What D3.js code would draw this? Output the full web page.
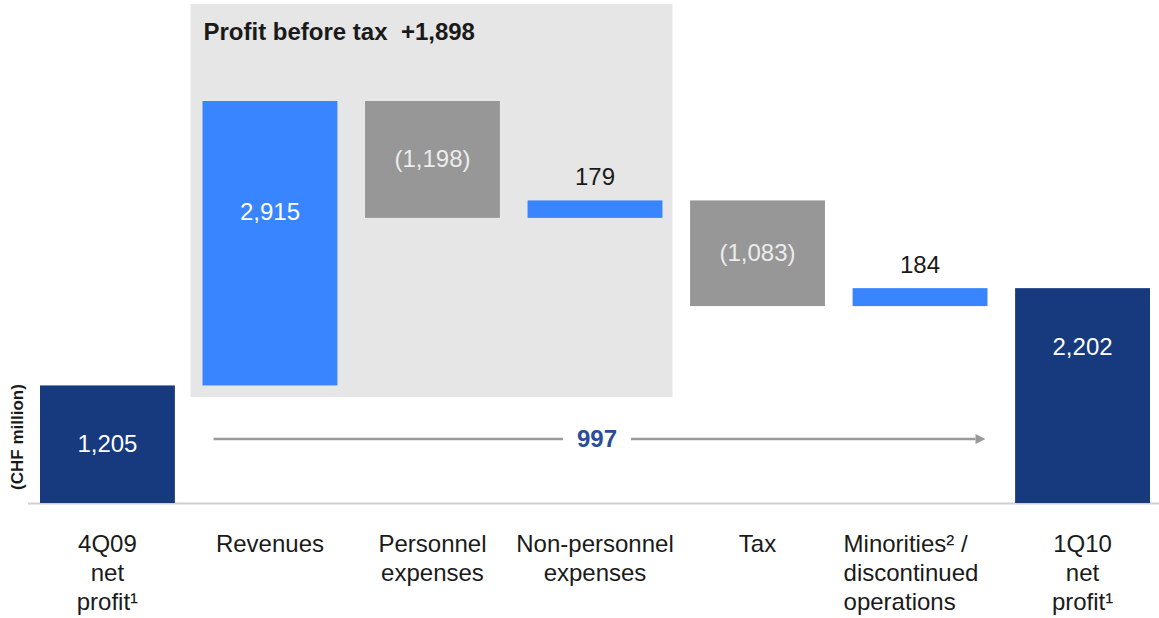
<!DOCTYPE html>
<html>
<head>
<meta charset="utf-8">
<script src="https://cdn.jsdelivr.net/npm/d3@7"></script>
<style>
  html, body { margin: 0; padding: 0; background: #fff; }
  svg { display: block; font-family: "Liberation Sans", Arial, sans-serif; }
</style>
</head>
<body>
<svg id="chart" width="1159" height="618"></svg>
<script>
// ---- data ----
const categories = ["4Q09 net profit", "Revenues", "Personnel expenses", "Non-personnel expenses", "Tax", "Minorities / discontinued operations", "1Q10 net profit"];
const categoryLines = [
  ["4Q09", "net", "profit¹"],
  ["Revenues"],
  ["Personnel", "expenses"],
  ["Non-personnel", "expenses"],
  ["Tax"],
  ["Minorities² /", "discontinued", "operations"],
  ["1Q10", "net", "profit¹"]
];
const values = [1205, 2915, -1198, 179, -1083, 184, 2202];
const kinds = ["total", "delta", "delta", "delta", "delta", "delta", "total"];
const panelTitle = "Profit before tax  +1,898";
const bridgeValue = 997;
const unitLabel = "(CHF million)";

// ---- build waterfall ----
let running = 0;
const bars = values.map((v, i) => {
  let y0, y1;
  if (kinds[i] === "total") { y0 = 0; y1 = v; running = v; }
  else { y0 = running; y1 = running + v; running = y1; }
  return { cat: categories[i], lines: categoryLines[i], v, kind: kinds[i], lo: Math.min(y0, y1), hi: Math.max(y0, y1), i };
});

const svg = d3.select("#chart");
const x = d3.scaleBand().domain(categories).range([40, 1150]).paddingInner(0.17).paddingOuter(0);
const y = d3.scaleLinear().domain([0, d3.max(bars, d => d.hi)]).range([503, 101]);

const colors = { total: "#173a7f", pos: "#3885ff", neg: "#979797" };
const fmt = d3.format(",");

// gray panel behind the profit-before-tax bars
const pStart = x(categories[1]) - 12, pEnd = x(categories[3]) + x.bandwidth() + 10;
svg.append("rect").attr("x", pStart).attr("y", 4).attr("width", pEnd - pStart).attr("height", 393).attr("fill", "#e6e6e6");
svg.append("text").attr("x", pStart + 13).attr("y", 40)
  .attr("font-size", 24).attr("font-weight", "bold").attr("fill", "#1a1a1a")
  .style("white-space", "pre").text(panelTitle);

// baseline
svg.append("line").attr("x1", 28).attr("x2", 1159).attr("y1", y(0) + 0.5).attr("y2", y(0) + 0.5)
  .attr("stroke", "#cfcfcf").attr("stroke-width", 2);

// bars
svg.selectAll("rect.bar").data(bars).join("rect").attr("class", "bar")
  .attr("x", d => x(d.cat)).attr("width", x.bandwidth())
  .attr("y", d => y(d.hi)).attr("height", d => y(d.lo) - y(d.hi))
  .attr("fill", d => d.kind === "total" ? colors.total : (d.v >= 0 ? colors.pos : colors.neg));

// value labels
const labelText = d => d.v < 0 ? "(" + fmt(-d.v) + ")" : fmt(d.v);
svg.selectAll("text.val").data(bars).join("text").attr("class", "val")
  .attr("x", d => x(d.cat) + x.bandwidth() / 2)
  .attr("y", d => {
    const h = y(d.lo) - y(d.hi);
    if (h < 30) return y(d.hi) - 15;               // small bars: label above
    if (d.i === 1) return y(d.hi) + 119;           // tall revenue bar
    if (d.i === 6) return y(d.hi) + 67;            // final total
    return (y(d.hi) + y(d.lo)) / 2 + 8;
  })
  .attr("text-anchor", "middle").attr("font-size", 24)
  .attr("fill", d => {
    const h = y(d.lo) - y(d.hi);
    if (h < 30) return "#1a1a1a";
    return d.v < 0 ? "#ececec" : "#ffffff";
  })
  .text(labelText);

// bridge arrow
const ay = 439;
const ax0 = x(categories[1]) + 11, ax1 = x(categories[5]) + x.bandwidth() - 2;
const mid = 597;
const bt = svg.append("text").attr("x", mid).attr("y", ay + 8).attr("text-anchor", "middle")
  .attr("font-size", 24).attr("font-weight", "bold").attr("fill", "#2b4c9b").text(fmt(bridgeValue));
const gap = bt.node().getBBox().width / 2 + 14;
svg.append("defs").append("marker").attr("id", "arr").attr("viewBox", "0 0 10 10")
  .attr("refX", 0).attr("refY", 5).attr("markerWidth", 10).attr("markerHeight", 10)
  .attr("markerUnits", "userSpaceOnUse").attr("orient", "auto")
  .append("path").attr("d", "M0,0L10,5L0,10Z").attr("fill", "#999");
svg.append("line").attr("x1", ax0).attr("x2", mid - gap).attr("y1", ay).attr("y2", ay)
  .attr("stroke", "#9a9a9a").attr("stroke-width", 2.5);
svg.append("line").attr("x1", mid + gap).attr("x2", ax1 - 10).attr("y1", ay).attr("y2", ay)
  .attr("stroke", "#9a9a9a").attr("stroke-width", 2.5).attr("marker-end", "url(#arr)");

// category labels (the minorities label is left-aligned, others centred)
const cl = svg.selectAll("text.cat").data(bars).join("text").attr("class", "cat")
  .attr("text-anchor", d => d.i === 5 ? "start" : "middle")
  .attr("font-size", 24).attr("fill", "#1a1a1a");
cl.each(function (d) {
  const t = d3.select(this);
  const tx = d.i === 5 ? x(d.cat) - 9 : x(d.cat) + x.bandwidth() / 2;
  d.lines.forEach((ln, k) => {
    t.append("tspan").attr("x", tx).attr("y", 552 + k * 29).text(ln);
  });
});

// unit label
svg.append("text").attr("transform", "translate(23,437) rotate(-90)")
  .attr("text-anchor", "middle").attr("font-size", 17).attr("font-weight", "bold").attr("fill", "#1a1a1a")
  .text(unitLabel);
</script>
</body>
</html>
